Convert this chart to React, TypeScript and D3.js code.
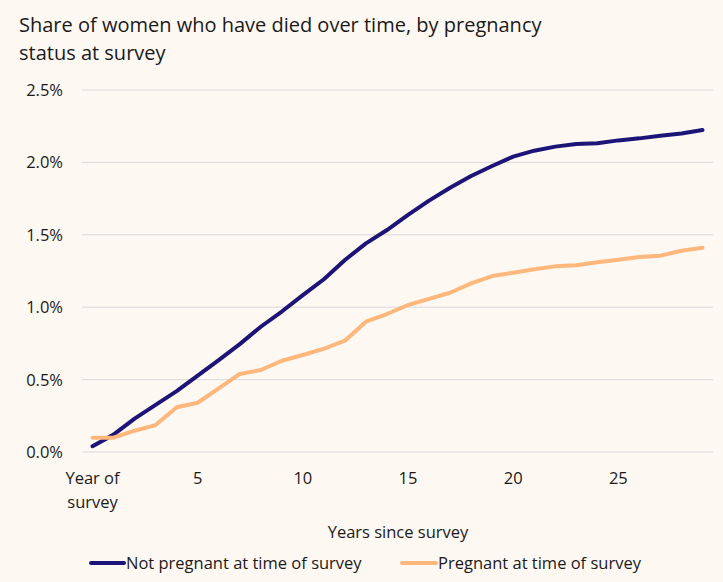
import React from "react";
import * as d3 from "d3";

const years = d3.range(0, 30);
const notPregnant = [
  0.04, 0.12, 0.23, 0.325, 0.42, 0.527, 0.635, 0.745, 0.865, 0.97, 1.083,
  1.193, 1.326, 1.441, 1.533, 1.637, 1.736, 1.825, 1.906, 1.975, 2.04, 2.081,
  2.109, 2.127, 2.132, 2.152, 2.166, 2.184, 2.2, 2.224,
];
const pregnant = [
  0.099, 0.099, 0.147, 0.186, 0.309, 0.34, 0.44, 0.539, 0.566, 0.63, 0.67,
  0.713, 0.769, 0.9, 0.953, 1.015, 1.057, 1.1, 1.165, 1.215, 1.238, 1.262,
  1.282, 1.29, 1.31, 1.328, 1.346, 1.356, 1.39, 1.41,
];
const yTicks = [0, 0.5, 1, 1.5, 2, 2.5];
const xTickLabels: Record<number, string[]> = {
  0: ["Year of", "survey"],
  5: ["5"],
  10: ["10"],
  15: ["15"],
  20: ["20"],
  25: ["25"],
};
const series = [
  { name: "Not pregnant at time of survey", values: notPregnant, color: "#1c1577" },
  { name: "Pregnant at time of survey", values: pregnant, color: "#ffb77c" },
];

const width = 723;
const height = 582;
const margin = { top: 90, right: 10, bottom: 130, left: 82 };
const font = "'Open Sans', 'Liberation Sans', Arial, sans-serif";
const labelSize = 16.5;

const App = () => {
  const x = d3
    .scaleBand<number>()
    .domain(years)
    .range([margin.left, width - margin.right]);
  const cx = (d: number) => (x(d) ?? 0) + x.bandwidth() / 2;
  const y = d3.scaleLinear([0, 2.5], [height - margin.bottom, margin.top]);
  const line = d3
    .line<number>()
    .x((d, i) => cx(years[i]))
    .y((d) => y(d));

  return (
    <svg
      width={width}
      height={height}
      style={{ position: "absolute", left: 0, top: 0, background: "#fef8f3" }}
      fontFamily={font}
    >
      <rect width={width} height={height} fill="#fef8f3" />
      <text x={19} y={32} fontSize={20} fill="#1a1a1a">
        Share of women who have died over time, by pregnancy
      </text>
      <text x={19} y={60} fontSize={20} fill="#1a1a1a">
        status at survey
      </text>

      <g>
        {yTicks.map((t) => (
          <g key={t}>
            <line
              x1={margin.left}
              x2={width - margin.right}
              y1={y(t)}
              y2={y(t)}
              stroke="#d9d9d9"
              strokeWidth={1}
            />
            <text
              x={63}
              y={y(t)}
              dy="0.36em"
              textAnchor="end"
              fontSize={labelSize}
              fill="#1a1a1a"
            >
              {t.toFixed(1)}%
            </text>
          </g>
        ))}
      </g>

      <g>
        {Object.entries(xTickLabels).map(([k, lines]) => (
          <text
            key={k}
            x={cx(+k)}
            y={484}
            textAnchor="middle"
            fontSize={labelSize}
            fill="#1a1a1a"
          >
            {lines.map((l, i) => (
              <tspan key={i} x={cx(+k)} dy={i === 0 ? 0 : 24}>
                {l}
              </tspan>
            ))}
          </text>
        ))}
        <text
          x={398}
          y={538}
          textAnchor="middle"
          fontSize={labelSize}
          fill="#1a1a1a"
        >
          Years since survey
        </text>
      </g>

      {series.map((s) => (
        <path
          key={s.name}
          d={line(s.values) ?? ""}
          fill="none"
          stroke={s.color}
          strokeWidth={4}
          strokeLinejoin="round"
          strokeLinecap="round"
        />
      ))}

      <g fontSize={labelSize} fill="#1a1a1a">
        <line x1={91} x2={124} y1={563} y2={563} stroke={series[0].color} strokeWidth={4} strokeLinecap="round" />
        <text x={126} y={569}>{series[0].name}</text>
        <line x1={402} x2={436} y1={563} y2={563} stroke={series[1].color} strokeWidth={4} strokeLinecap="round" />
        <text x={438} y={569}>{series[1].name}</text>
      </g>
    </svg>
  );
};

export default App;
